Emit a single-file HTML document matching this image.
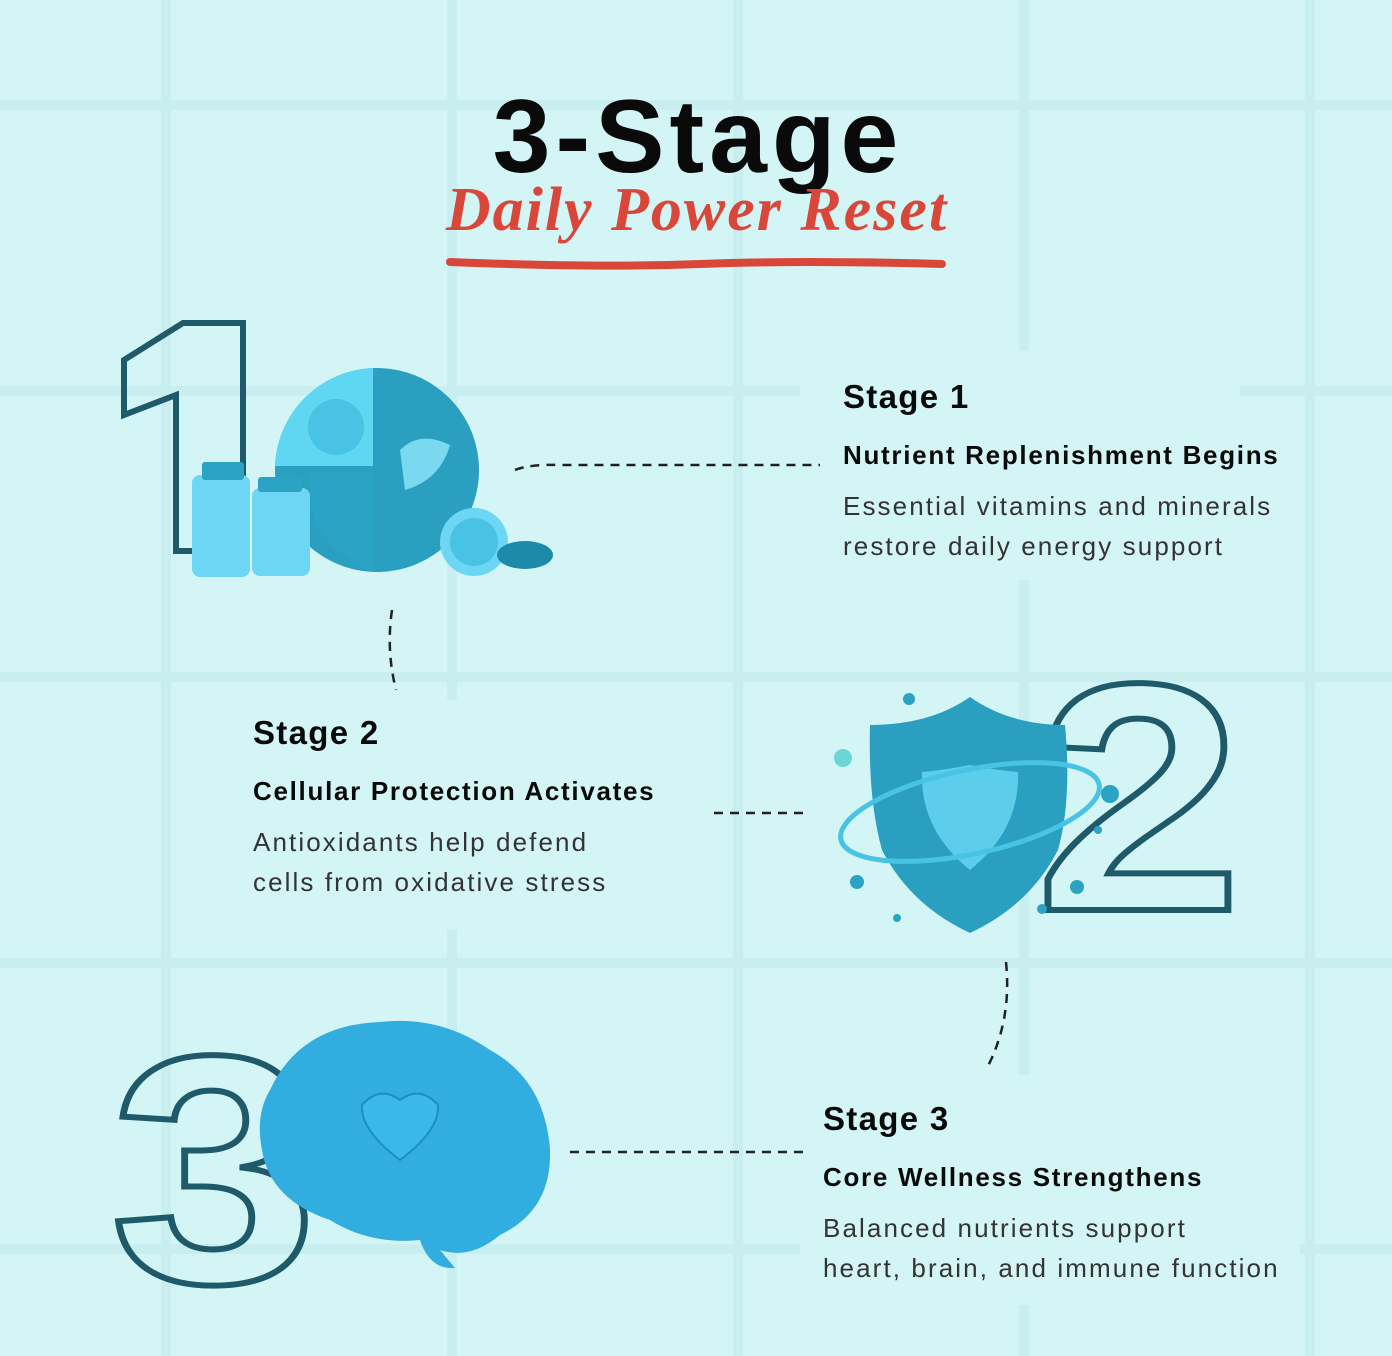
<!DOCTYPE html>
<html><head><meta charset="utf-8"><style>
body{margin:0;width:1392px;height:1356px;overflow:hidden;background:#d4f5f5;font-family:"Liberation Sans",sans-serif}
.t{position:absolute;color:#0a0a0a;white-space:nowrap}
.h{font-size:33px;font-weight:bold;letter-spacing:1.3px}
.s{font-size:26px;font-weight:bold;letter-spacing:1.7px}
.b{font-size:26px;color:#333;line-height:40px;letter-spacing:2.1px}
</style></head><body>
<svg width="1392" height="1356" style="position:absolute;left:0;top:0">
<g fill="#c8eeef">
<rect x="161" y="0" width="10" height="1356"/><rect x="447" y="0" width="10" height="1356"/><rect x="733" y="0" width="10" height="1356"/><rect x="1019" y="0" width="10" height="1356"/><rect x="1305" y="0" width="10" height="1356"/>
<rect x="0" y="100" width="1392" height="10"/><rect x="0" y="386" width="1392" height="10"/><rect x="0" y="672" width="1392" height="10"/><rect x="0" y="958" width="1392" height="10"/><rect x="0" y="1244" width="1392" height="10"/>
</g>
<rect x="800" y="350" width="440" height="230" fill="#d4f5f5"/>
<rect x="240" y="700" width="440" height="230" fill="#d4f5f5"/>
<rect x="800" y="1075" width="500" height="230" fill="#d4f5f5"/>
<text x="698" y="172" text-anchor="middle" font-family="Liberation Sans" font-weight="bold" font-size="104" letter-spacing="5" fill="#0a0a0a">3-Stage</text>
<text x="697" y="230" text-anchor="middle" font-family="Liberation Serif" font-style="italic" font-weight="bold" font-size="62" letter-spacing="2" fill="#d9473a">Daily Power Reset</text>
<path d="M450 262 Q600 268 700 264 T942 264" stroke="#d9473a" stroke-width="8" fill="none" stroke-linecap="round"/>
<g fill="none" stroke="#1f5a6b" stroke-width="6">
<path d="M124 415 L124 360 L183 323 L243 323 L243 551 L176 551 L176 395 Z"/>
</g>
<g fill="none" stroke="#1f5a6b" stroke-width="6" font-family="Liberation Sans" font-weight="bold" font-size="325">
<text x="0" y="0" transform="translate(1035 910) scale(1.15 1)">2</text>
<text x="0" y="0" transform="translate(110 1282) scale(1.15 1)">3</text>
</g>
<g stroke="#222" stroke-width="2.5" stroke-dasharray="9 7" fill="none">
<path d="M515 470 Q530 464 560 465 L820 465"/>
<path d="M392 610 Q386 650 396 690"/>
<path d="M714 813 L806 813"/>
<path d="M1006 962 Q1012 1020 987 1068"/>
<path d="M570 1152 L803 1152"/>
</g>
<circle cx="377" cy="470" r="102" fill="#2a9fc0"/>
<path d="M373 368 A102 102 0 0 0 275 466 L373 466Z" fill="#5fd6f2"/>
<path d="M373 472 L310 472 Q300 540 373 572Z" fill="#2ba3c4"/>
<circle cx="336" cy="427" r="28" fill="#48c3e3"/>
<path d="M400 450 Q420 430 450 445 Q440 480 405 490Z" fill="#7ad8ef"/>
<rect x="192" y="475" width="58" height="102" rx="8" fill="#6cd6f4"/><rect x="202" y="462" width="42" height="18" rx="3" fill="#2ba3c4"/>
<rect x="252" y="488" width="58" height="88" rx="8" fill="#6cd6f4"/><rect x="258" y="477" width="44" height="15" rx="3" fill="#2ba3c4"/>
<circle cx="474" cy="542" r="34" fill="#6cd6f4"/><circle cx="474" cy="542" r="24" fill="#48c3e3"/>
<ellipse cx="525" cy="555" rx="28" ry="14" fill="#1e8aaa"/>
<path d="M970 697 Q1010 725 1065 725 Q1072 800 1058 850 Q1030 905 970 933 Q910 905 882 850 Q868 800 870 725 Q930 725 970 697Z" fill="#2a9fc0"/>
<path d="M970 765 Q995 770 1018 772 Q1020 830 970 870 Q920 830 922 772 Q945 770 970 765Z" fill="#5ccdea"/>
<ellipse cx="970" cy="812" rx="132" ry="42" fill="none" stroke="#48c3e3" stroke-width="5" transform="rotate(-12 970 812)"/>
<g fill="#2ba3c4"><circle cx="909" cy="699" r="6"/><circle cx="843" cy="758" r="9" fill="#6cd6d6"/><circle cx="1110" cy="794" r="9"/><circle cx="857" cy="882" r="7"/><circle cx="1077" cy="887" r="7"/><circle cx="1042" cy="909" r="5"/><circle cx="897" cy="918" r="4"/><circle cx="1098" cy="830" r="4"/></g>
<path d="M270 1090 Q300 1025 380 1022 Q440 1015 490 1050 Q545 1080 550 1150 Q552 1210 500 1235 Q470 1260 440 1250 L455 1268 Q430 1270 420 1240 Q370 1245 330 1220 Q270 1200 262 1150 Q255 1115 270 1090Z" fill="#32ade0"/>
<path d="M400 1100 Q420 1085 438 1105 Q440 1130 400 1160 Q360 1130 362 1105 Q380 1085 400 1100Z" fill="#3ab9e8" stroke="#1e8ec0" stroke-width="2"/>
</svg>
<div class="t h" style="left:843px;top:378px">Stage 1</div>
<div class="t s" style="left:843px;top:440px">Nutrient Replenishment Begins</div>
<div class="t b" style="left:843px;top:486px">Essential vitamins and minerals<br>restore daily energy support</div>
<div class="t h" style="left:253px;top:714px">Stage 2</div>
<div class="t s" style="left:253px;top:776px">Cellular Protection Activates</div>
<div class="t b" style="left:253px;top:822px">Antioxidants help defend<br>cells from oxidative stress</div>
<div class="t h" style="left:823px;top:1100px">Stage 3</div>
<div class="t s" style="left:823px;top:1162px">Core Wellness Strengthens</div>
<div class="t b" style="left:823px;top:1208px">Balanced nutrients support<br>heart, brain, and immune function</div>
</body></html>
